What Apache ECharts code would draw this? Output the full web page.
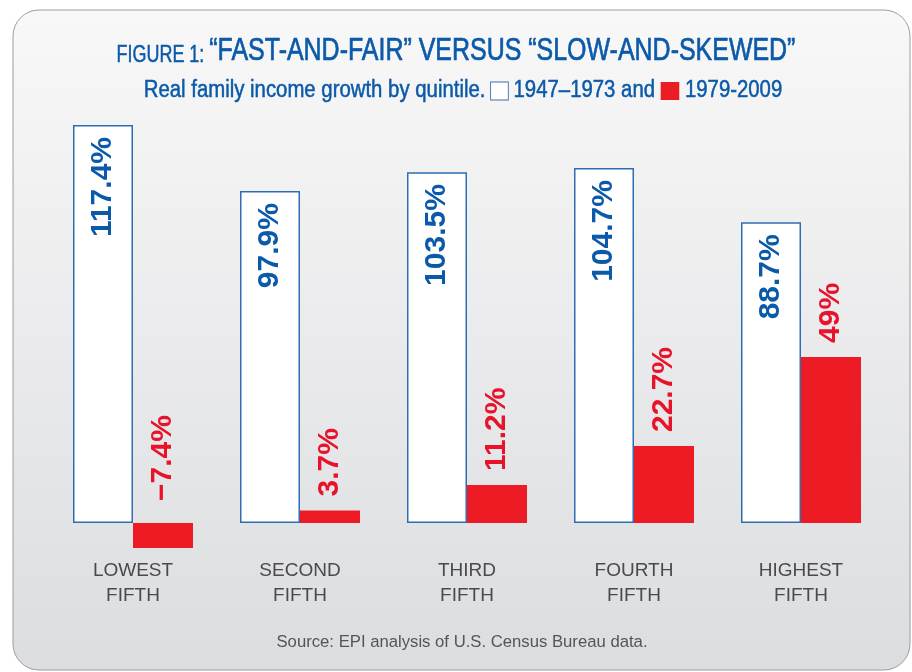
<!DOCTYPE html>
<html>
<head>
<meta charset="utf-8">
<script src="https://cdn.jsdelivr.net/npm/echarts@6/dist/echarts.min.js"></script>
<style>
  html, body { margin: 0; padding: 0; background: #fff; }
  #chart { width: 912px; height: 672px; }
</style>
</head>
<body>
<div id="chart"></div>
<script>
const quintiles = ['LOWEST\nFIFTH', 'SECOND\nFIFTH', 'THIRD\nFIFTH', 'FOURTH\nFIFTH', 'HIGHEST\nFIFTH']
const growth1947to1973 = [117.4, 97.9, 103.5, 104.7, 88.7]
const growth1979to2009 = [-7.4, 3.7, 11.2, 22.7, 49]

const FONT = '"Liberation Sans", Arial, Helvetica, sans-serif'
const BLUE = '#0b5aa9'
const RED = '#e8132b'

function pct(v) {
  return (v < 0 ? '\u2212' + Math.abs(v) : String(v)) + '%'
}

// condensed look: plain sans squeezed horizontally around its own anchor
function squeezedText(x, y, scaleX, text, rich) {
  return {
    type: 'text',
    x: x,
    y: y,
    originX: 0,
    originY: 0,
    scaleX: scaleX,
    style: {
      text: text,
      align: 'center',
      verticalAlign: 'middle',
      fontFamily: FONT,
      rich: rich,
    },
  }
}

const chart = echarts.init(document.getElementById('chart'))

const option = {
  animation: false,
  graphic: [
    {
      type: 'rect',
      shape: { x: 13, y: 10, width: 897, height: 660, r: 26 },
      style: {
        fill: new echarts.graphic.LinearGradient(0, 0, 0, 1, [
          { offset: 0, color: '#f8f8f8' },
          { offset: 1, color: '#dcdde0' },
        ]),
        stroke: '#9c9c9c',
        lineWidth: 1,
      },
      z: -10,
    },
    squeezedText(456, 51, 0.78,
      '{a|FIGURE 1: }{b|\u201CFAST-AND-FAIR\u201D VERSUS \u201CSLOW-AND-SKEWED\u201D}', {
        a: { fontFamily: FONT, fontSize: 23, fill: BLUE, verticalAlign: 'bottom', stroke: BLUE, lineWidth: 0.5 },
        b: { fontFamily: FONT, fontSize: 32, fill: BLUE, verticalAlign: 'bottom', stroke: BLUE, lineWidth: 0.7 },
      }),
    squeezedText(463, 91, 0.885,
      '{t|Real family income growth by quintile. }{w|}{t| 1947\u20131973 and }{r|}{t| 1979-2009}', {
        t: { fontFamily: FONT, fontSize: 23, fill: BLUE, stroke: BLUE, lineWidth: 0.5 },
        w: { width: 19, height: 17, backgroundColor: '#fff', borderColor: '#3f6fae', borderWidth: 1 },
        r: { width: 21, height: 18, backgroundColor: '#ec1c24' },
      }),
    {
      type: 'text',
      x: 462,
      y: 642,
      style: {
        text: 'Source: EPI analysis of U.S. Census Bureau data.',
        align: 'center',
        verticalAlign: 'middle',
        fontFamily: FONT,
        fontSize: 16.7,
        fill: '#555',
      },
    },
  ],
  grid: {
    left: 49.5,
    right: 27.5,
    top: 116.2,
    bottom: 115.1,
  },
  xAxis: {
    type: 'category',
    data: quintiles,
    axisLine: { show: false, onZero: false },
    axisTick: { show: false },
    axisLabel: {
      margin: 1,
      fontFamily: FONT,
      fontSize: 19,
      lineHeight: 25,
      color: '#4a4a4a',
    },
  },
  yAxis: {
    type: 'value',
    min: -10,
    max: 120,
    show: false,
  },
  series: [
    {
      name: '1947-1973',
      type: 'bar',
      data: growth1947to1973,
      barWidth: 60,
      barGap: '0%',
      itemStyle: { color: '#fff', borderColor: '#2f6db3', borderWidth: 1.5 },
      label: {
        show: true,
        position: 'insideTop',
        distance: 12,
        rotate: 90,
        align: 'right',
        verticalAlign: 'middle',
        formatter: p => pct(p.value),
        fontFamily: FONT,
        fontWeight: 'bold',
        fontSize: 30,
        color: BLUE,
      },
    },
    {
      name: '1979-2009',
      type: 'bar',
      data: growth1979to2009.map(v => (v < 0 ? { value: v, label: { distance: 22 } } : v)),
      barWidth: 60,
      barGap: '0%',
      itemStyle: { color: '#ed1c24' },
      label: {
        show: true,
        position: 'top',
        distance: 14,
        rotate: 90,
        align: 'left',
        verticalAlign: 'middle',
        formatter: p => pct(p.value),
        fontFamily: FONT,
        fontWeight: 'bold',
        fontSize: 30,
        color: RED,
      },
    },
  ],
}

chart.setOption(option)
</script>
</body>
</html>
